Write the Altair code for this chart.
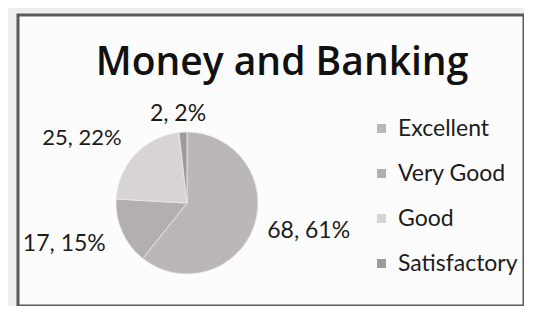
import altair as alt
import pandas as pd

categories = ["Excellent", "Very Good", "Good", "Satisfactory"]
counts = [68, 17, 25, 2]
percents = [61, 15, 22, 2]
colors = ["#bbb7b8", "#b3afb0", "#d8d4d5", "#9f9b9c"]
title_text = "Money and Banking"

df = pd.DataFrame({"cat": categories, "n": counts, "pct": percents, "idx": list(range(len(categories)))})
df["label"] = [f"{n}, {p}%" for n, p in zip(counts, percents)]

W, H = 506, 291
CX, CY = 169, 188
R = 71
FONT = "Lato"
TXT = "#1c1c1c"

base = alt.Chart(df).encode(
    theta=alt.Theta("n:Q", stack=True),
    order=alt.Order("idx:Q"),
)

pie = base.mark_arc(outerRadius=R, stroke="#ece8e9", strokeWidth=0.8).encode(
    x=alt.value(CX),
    y=alt.value(CY),
    color=alt.Color(
        "cat:N",
        scale=alt.Scale(domain=categories, range=colors),
        sort=categories,
        legend=alt.Legend(
            title=None, orient="none", legendX=352, legendY=102,
            symbolType="square", symbolSize=81, symbolStrokeWidth=0,
            labelFontSize=23, labelFont=FONT, labelColor=TXT,
            rowPadding=21, labelOffset=5,
        ),
    ),
)


def labels(sel, align, radius, dx=0, dy=0, size=23):
    return base.mark_text(radius=radius, align=align, baseline="middle", font=FONT,
                          fontSize=size, color=TXT, dx=dx, dy=dy).encode(
        x=alt.value(CX),
        y=alt.value(CY),
        text=alt.condition(alt.FieldOneOfPredicate(field="cat", oneOf=sel),
                           "label:N", alt.value("")),
    )


title = alt.Chart(pd.DataFrame({"t": [title_text]})).mark_text(
    font="Open Sans", fontSize=39, fontWeight=600, color="#111111",
    align="center", baseline="alphabetic",
).encode(text="t:N", x=alt.value(264), y=alt.value(60))

chart = alt.layer(
    pie,
    labels(["Good"], "right", 90, 0, -3, 22),
    labels(["Very Good"], "right", 89, 0, 5),
    labels(["Excellent"], "left", 85),
    labels(["Satisfactory"], "center", 89, -4, 0),
    title,
).properties(
    width=W,
    height=H,
    padding={"left": 10, "top": 7, "right": 0, "bottom": 0},
    autosize=alt.AutoSizeParams(type="none"),
    background="#eeeeee",
).configure_view(stroke="#5a5a5a", strokeWidth=3, fill="#fcfcfc")

chart.save("out.html", embed_options={"renderer": "svg", "actions": False})
